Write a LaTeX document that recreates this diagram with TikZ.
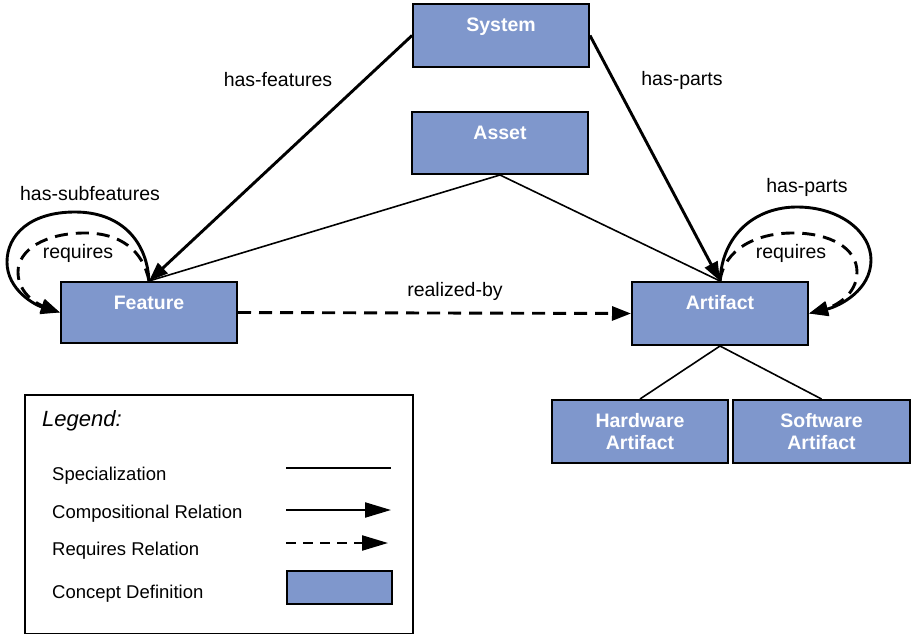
\documentclass[tikz,border=0pt]{standalone}
\usepackage{fontspec}
\setmainfont{Liberation Sans}
\usetikzlibrary{arrows.meta}
\definecolor{boxblue}{RGB}{127,151,204}
\begin{document}
\begin{tikzpicture}[x=1pt,y=-1pt,
 conceptbase/.style={draw=black,line width=2pt,fill=boxblue,text=white,
   font=\fontsize{19.5}{22}\selectfont\bfseries,minimum width=176pt,inner sep=0pt},
 concept/.style={conceptbase,anchor=north,text height=27.5pt},
 concepttwo/.style={conceptbase,minimum height=63pt,align=center,
   font=\fontsize{19.5}{22.5}\selectfont\bfseries},
 lbl/.style={font=\fontsize{19.5}{22}\selectfont,inner sep=0pt},
 legtext/.style={font=\fontsize{18.5}{22}\selectfont,inner sep=0pt,anchor=base west},
 comp/.style={line width=2.9pt,-{Triangle[length=19pt,width=14pt]}},
 req/.style={line width=2.9pt,dash pattern=on 13pt off 8pt,-{Triangle[length=19pt,width=14pt]}},
 spec/.style={line width=1.6pt},
 legcomp/.style={line width=2.2pt,-{Triangle[length=26pt,width=15pt]}},
 legreq/.style={line width=2.2pt,dash pattern=on 10pt off 7pt,-{Triangle[length=26pt,width=15pt]}}]
\useasboundingbox (0,0) rectangle (911,634);

% concept boxes
\node[concept,text depth=35.5pt] (system) at (501,3) {System};
\node[concept,text depth=34.5pt] (asset) at (500,111) {Asset};
\node[concept,text depth=33.5pt] (feature) at (149,281) {Feature};
\node[concept,text depth=35.5pt] (artifact) at (720,281) {Artifact};
\node[concepttwo] (hw) at (640,431.5) {Hardware\\Artifact};
\node[concepttwo,minimum width=177pt] (sw) at (821.5,431.5) {Software\\Artifact};

% relations
\draw[comp] (system.west) -- (feature.north);
\draw[comp] (system.east) -- (artifact.north);
\draw[spec] (asset.south) -- (feature.north);
\draw[spec] (asset.south) -- (artifact.north);
\draw[req] (feature.east) -- (artifact.west);
\draw[spec] (artifact.south) -- (hw.north);
\draw[spec] (artifact.south) -- (sw.north);

% self loops on Feature
\draw[comp] (feature.north) .. controls (147,240) and (120,212) .. (75,212)
  .. controls (30,212) and (7,235) .. (7,262)
  .. controls (7,290) and (35,305) .. (feature.west);
\draw[req] (feature.north) .. controls (143,250) and (120,233) .. (85,233)
  .. controls (45,233) and (18,250) .. (18,272)
  .. controls (18,295) and (40,305) .. (feature.west);

% self loops on Artifact
\draw[comp] (artifact.north) .. controls (722,235) and (755,207) .. (797,207)
  .. controls (840,207) and (871,232) .. (871,260)
  .. controls (871,290) and (840,306) .. (artifact.east);
\draw[req] (artifact.north) .. controls (724,250) and (755,233) .. (793,233)
  .. controls (830,233) and (857,248) .. (857,272)
  .. controls (857,295) and (835,306) .. (artifact.east);

% labels
\node[lbl] (lhf) at (278,80) {has-features};
\node[lbl] (lhp) at (682,80) {has-parts};
\node[lbl] (lhsf) at (90,194) {has-subfeatures};
\node[lbl] (lreqf) at (78,253) {requires};
\node[lbl] (lhpa) at (807,187) {has-parts};
\node[lbl] (lreqa) at (791,253) {requires};
\node[lbl] (lrb) at (455,291) {realized-by};

% legend
\node[draw=black,line width=1.6pt,minimum width=388pt,minimum height=239pt,
  anchor=north west,inner sep=0pt] (legend) at (24,394) {};
\node[inner sep=0pt,anchor=base west,font=\fontsize{22}{26}\selectfont\itshape] (lgtitle) at (42,426) {Legend:};
\node[legtext] (lspec) at (52,480) {Specialization};
\node[legtext] (lcomp) at (52,518) {Compositional Relation};
\node[legtext] (lreq) at (52,555) {Requires Relation};
\node[legtext] (lconc) at (52,598) {Concept Definition};
\coordinate (s1) at (286,468); \coordinate (s2) at (391,468);
\coordinate (c1) at (286,510); \coordinate (c2) at (391,510);
\coordinate (r1) at (286,543); \coordinate (r2) at (388,543);
\draw[spec,line width=2pt] (s1) -- (s2);
\draw[legcomp] (c1) -- (c2);
\draw[legreq] (r1) -- (r2);
\node[draw=black,line width=2pt,fill=boxblue,minimum width=105pt,minimum height=33pt,
  inner sep=0pt,anchor=north west] (lbox) at (286,570) {};
\end{tikzpicture}
\end{document}
